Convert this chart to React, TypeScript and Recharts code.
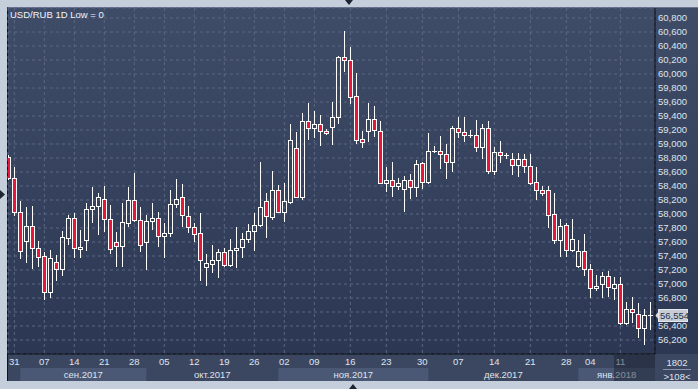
import React from "react";
import { ComposedChart, Bar, XAxis, YAxis, CartesianGrid, ReferenceLine } from "recharts";

// daily candles, USD/RUB (rub), 31 aug 2017 .. 12 jan 2018
const OPEN = [
  58.814, 58.51, 58.024, 57.61, 57.824, 57.51, 57.396, 56.881, 57.31, 57.21,
  57.653, 57.939, 57.504, 57.624, 58.067, 58.11, 58.21, 57.924, 57.596, 57.539,
  57.867, 58.196, 57.91, 57.596, 57.896, 57.939, 57.681, 57.724, 58.139, 58.239,
  57.967, 57.81, 57.724, 57.239, 57.281, 57.339, 57.453, 57.267, 57.481, 57.524,
  57.639, 57.753, 57.839, 58.181, 57.961, 58.343, 58.033, 58.176, 58.939, 58.247,
  59.324, 59.224, 59.281, 59.181, 59.239, 59.381, 60.239, 60.196, 59.681, 59.067,
  59.181, 59.353, 59.181, 58.439, 58.481, 58.396, 58.353, 58.481, 58.381, 58.724,
  58.453, 58.896, 58.896, 58.853, 58.739, 59.224, 59.167, 59.124, 59.124, 58.953,
  59.224, 58.61, 58.881, 58.839, 58.781, 58.696, 58.781, 58.681, 58.453, 58.339,
  58.339, 57.996, 57.624, 57.839, 57.481, 57.253, 57.467, 57.21, 56.939, 56.996,
  57.11, 56.939, 56.996, 56.439, 56.639, 56.567, 56.367, 56.553,
];
const HIGH = [
  58.843, 58.676, 58.186, 58.1, 58.11, 57.614, 57.461, 57.486, 57.41, 57.757,
  57.981, 58.01, 57.771, 58.153, 58.386, 58.296, 58.404, 58.129, 57.743, 58.153,
  58.381, 58.581, 58.096, 57.981, 58.157, 58.024, 57.867, 58.343, 58.5, 58.424,
  58.11, 57.867, 58.01, 57.424, 57.553, 57.496, 57.51, 57.639, 57.81, 57.724,
  57.853, 58.01, 58.747, 58.296, 58.614, 58.414, 58.439, 59.286, 59.167, 59.439,
  59.581, 59.467, 59.414, 59.21, 59.596, 60.253, 60.614, 60.381, 60.01, 59.181,
  59.581, 59.539, 59.324, 58.667, 58.739, 58.51, 58.543, 58.567, 58.767, 58.747,
  59.157, 58.967, 59.11, 58.996, 59.261, 59.381, 59.381, 59.196, 59.339, 59.286,
  59.329, 58.953, 59.039, 58.876, 58.867, 58.867, 58.853, 58.853, 58.667, 58.4,
  58.4, 58.296, 57.924, 57.867, 57.924, 57.624, 57.71, 57.281, 57.124, 57.167,
  57.181, 57.096, 57.096, 56.739, 56.81, 56.724, 56.639, 56.739,
];
const LOW = [
  58.486, 57.976, 57.361, 57.296, 57.219, 57.247, 56.771, 56.796, 57.039, 57.119,
  57.553, 57.376, 57.376, 57.476, 57.871, 57.704, 57.747, 57.424, 57.239, 57.247,
  57.81, 57.886, 57.461, 57.196, 57.767, 57.524, 57.376, 57.667, 58.081, 57.81,
  57.724, 57.596, 57.047, 56.971, 57.153, 57.081, 57.239, 57.239, 57.224, 57.367,
  57.581, 57.467, 57.81, 57.653, 57.914, 58.01, 57.89, 58.147, 58.247, 58.204,
  59.061, 59.081, 58.967, 59.124, 58.981, 59.29, 60.024, 59.567, 58.996, 58.939,
  59.024, 59.096, 58.425, 58.319, 58.247, 58.343, 58.033, 58.21, 58.239, 58.353,
  58.429, 58.867, 58.639, 58.496, 58.604, 59.081, 59.033, 59.081, 58.89, 58.781,
  58.576, 58.553, 58.724, 58.781, 58.553, 58.533, 58.581, 58.41, 58.193, 58.261,
  57.796, 57.567, 57.381, 57.381, 57.453, 57.224, 57.11, 56.796, 56.896, 56.796,
  56.81, 56.767, 56.41, 56.41, 56.439, 56.224, 56.124, 56.339,
];
const CLOSE = [
  58.514, 58.024, 57.467, 57.824, 57.51, 57.381, 56.881, 57.367, 57.21, 57.667,
  57.939, 57.51, 57.524, 58.067, 58.11, 58.239, 57.924, 57.496, 57.539, 57.881,
  58.196, 57.91, 57.553, 57.896, 57.939, 57.681, 57.724, 58.139, 58.21, 57.981,
  57.81, 57.71, 57.339, 57.296, 57.339, 57.453, 57.267, 57.481, 57.51, 57.639,
  57.753, 57.839, 58.096, 57.967, 58.343, 58.033, 58.186, 59.053, 58.247, 59.324,
  59.224, 59.281, 59.181, 59.153, 59.381, 60.239, 60.196, 59.667, 59.053, 59.024,
  59.353, 59.196, 58.439, 58.481, 58.396, 58.439, 58.481, 58.381, 58.71, 58.453,
  58.896, 58.9, 58.853, 58.739, 59.224, 59.167, 59.124, 59.128, 58.953, 59.224,
  58.61, 58.881, 58.839, 58.843, 58.696, 58.781, 58.681, 58.439, 58.339, 58.296,
  57.981, 57.624, 57.824, 57.481, 57.639, 57.467, 57.21, 56.939, 56.967, 57.11,
  56.953, 56.996, 56.439, 56.639, 56.596, 56.367, 56.553, 56.554,
];

const DAY_TICKS = [1, 6, 11, 16, 21, 26, 31, 36, 41, 46, 51, 57, 63, 69, 75, 81, 87, 93, 97, 102];
const DAY_LABELS = ["31", "07", "14", "21", "28", "05", "12", "19", "26", "02", "09", "16", "23", "30", "07", "14", "21", "28", "04", "11"];

const MONTH_LABELS = ["сен.2017", "окт.2017", "ноя.2017", "дек.2017", "янв.2018"];
const MONTH_START = [2, 23, 45, 70, 95];
const MONTH_SHADED = [true, false, true, false, true];

const PRICE_TICKS = [56.2, 56.4, 56.6, 56.8, 57.0, 57.2, 57.4, 57.6, 57.8, 58.0, 58.2, 58.4, 58.6, 58.8, 59.0, 59.2, 59.4, 59.6, 59.8, 60.0, 60.2, 60.4, 60.6, 60.8];
const LAST_PRICE = 56.554;

const XMIN = -0.05;
const XMAX = 107.78;
const YMIN = 56.0;
const YMAX = 60.943;

const W = 698;
const H = 389;
const PLOT_W = 647;
const PX = PLOT_W / (XMAX - XMIN);

const RED = "#e5173c";
const FONT = "'Liberation Sans', Arial, sans-serif";
const TXT = "#dfe4ec";

const candles = OPEN.map((o, i) => ({
  i,
  o,
  h: HIGH[i],
  l: LOW[i],
  c: CLOSE[i],
  range: [LOW[i], HIGH[i]],
}));

const monthEnd = MONTH_START.map((s, k) => (k < MONTH_START.length - 1 ? MONTH_START[k + 1] : XMAX));
const monthCenters = MONTH_START.map((s, k) => (s + monthEnd[k]) / 2);

const fmt = (v: number) => v.toFixed(3).replace(".", ",");

function Candle(props: any) {
  const { x, y, width, height, payload } = props;
  if (!payload || height == null) return null;
  const { o, h, l, c } = payload;
  const k = h > l ? height / (h - l) : 0;
  const cx = Math.round(x + width / 2) + 0.5;
  const top = Math.round(y + (h - Math.max(o, c)) * k) + 0.5;
  const bot = Math.round(y + (h - Math.min(o, c)) * k) + 0.5;
  const y0 = Math.round(y);
  const y1 = Math.round(y + height);
  const up = c >= o;
  return (
    <g>
      <line x1={cx} x2={cx} y1={y0} y2={top} stroke="#fff" strokeWidth={1} />
      <line x1={cx} x2={cx} y1={bot} y2={y1} stroke="#fff" strokeWidth={1} />
      {bot - top < 1 ? (
        <line x1={cx - 2.5} x2={cx + 2.5} y1={top} y2={top} stroke="#fff" strokeWidth={1} />
      ) : (
        <rect x={cx - 2} y={top} width={4} height={bot - top} fill={up ? "none" : RED} stroke="#fff" strokeWidth={1} />
      )}
    </g>
  );
}

function MonthTick(props: any) {
  const { x, y, payload } = props;
  const k = monthCenters.indexOf(payload.value);
  if (k < 0) return null;
  const w = (monthEnd[k] - MONTH_START[k]) * PX;
  return (
    <g>
      {MONTH_SHADED[k] && <rect x={x - w / 2} y={y - 2} width={w} height={13} fill="#4a5876" />}
      <text x={x} y={y + 8} textAnchor="middle" fontSize={9.5} fontFamily={FONT} fill={TXT}>
        {MONTH_LABELS[k]}
      </text>
    </g>
  );
}

// price label; the one hidden under the last-price tag only peeks out on the left
function PriceTick(props: any) {
  const { x, y, payload } = props;
  const covered = Math.abs(payload.value - LAST_PRICE) < 0.1;
  const id = "pclip" + String(payload.value).replace(".", "_");
  return (
    <g>
      {covered && (
        <defs>
          <clipPath id={id}>
            <rect x={x} y={y - 8} width={2} height={16} />
          </clipPath>
        </defs>
      )}
      <text x={x} y={y} dy="0.355em" fontSize={9.5} fontFamily={FONT} fill={TXT} clipPath={covered ? `url(#${id})` : undefined}>
        {fmt(payload.value)}
      </text>
    </g>
  );
}

function PriceTag(props: any) {
  const vb = props.viewBox;
  if (!vb) return null;
  const x = vb.x + vb.width;
  const y = Math.round(vb.y) + 0.5;
  return (
    <g>
      <polygon points={`${x},${y} ${x + 5},${y - 5} ${x + 5},${y + 5}`} fill="#d4d8df" />
      <rect x={x + 3.5} y={y - 6} width={29} height={12} fill="#c8ccd4" stroke="#e4e7ec" />
      <text x={x + 5} y={y + 3.5} fontSize={9.5} fontFamily={FONT} fill="#24304a">
        {fmt(LAST_PRICE)}
      </text>
    </g>
  );
}

export default function App() {
  return (
    <div style={{ position: "absolute", left: 0, top: 0, width: W, height: H, background: "#c5cedb", overflow: "hidden", fontFamily: FONT }}>
      <div style={{ position: "absolute", left: 7, top: 7, width: 691, height: 347, background: "linear-gradient(#3f4c68, #2c3853)", borderLeft: "1px solid #10141c", borderTop: "1px solid #6a7590" }} />
      <div style={{ position: "absolute", left: 7, top: 354, width: 691, height: 27, background: "#3b4661", borderLeft: "1px solid #10141c" }} />
      <div style={{ position: "absolute", left: 0, top: 0 }}>
        <ComposedChart width={W} height={H} data={candles} margin={{ top: 8, right: 0, bottom: 8, left: 8 }}>
          <defs>
            <linearGradient id="plotBg" x1="0" y1="0" x2="0" y2="1">
              <stop offset="0%" stopColor="#3f4c68" />
              <stop offset="100%" stopColor="#2c3853" />
            </linearGradient>
          </defs>
          <CartesianGrid fill="url(#plotBg)" stroke="#5b6783" strokeDasharray="3 3" />
          <XAxis
            dataKey="i"
            type="number"
            domain={[XMIN, XMAX]}
            allowDataOverflow
            ticks={DAY_TICKS}
            interval={0}
            height={16}
            tickSize={0}
            tickMargin={4}
            axisLine={{ stroke: "#05070b" }}
            tickLine={false}
            tickFormatter={(v: number) => DAY_LABELS[DAY_TICKS.indexOf(v)] ?? ""}
            tick={{ fill: TXT, fontSize: 9.5, fontFamily: FONT }}
          />
          <XAxis
            xAxisId="m"
            dataKey="i"
            type="number"
            domain={[XMIN, XMAX]}
            allowDataOverflow
            ticks={monthCenters}
            interval={0}
            height={11}
            tickSize={0}
            tickMargin={0}
            axisLine={false}
            tickLine={false}
            tick={<MonthTick />}
          />
          <YAxis
            orientation="right"
            width={43}
            domain={[YMIN, YMAX]}
            allowDataOverflow
            ticks={PRICE_TICKS}
            interval={0}
            tickSize={0}
            tickMargin={3}
            axisLine={{ stroke: "#05070b" }}
            tickLine={false}
            tick={<PriceTick />}
          />
          <Bar dataKey="range" barSize={6} shape={<Candle />} isAnimationActive={false} />
          <ReferenceLine y={LAST_PRICE} stroke="none" ifOverflow="visible" label={<PriceTag />} />
        </ComposedChart>
      </div>
      <div style={{ position: "absolute", left: 10, top: 9, fontSize: 9.5, color: "#f2f4f8", lineHeight: "11px" }}>USD/RUB 1D Low = 0</div>
      <div style={{ position: "absolute", left: 656, top: 355, width: 42, textAlign: "center", fontSize: 9.5, color: TXT, lineHeight: "11px" }}>
        <div style={{ paddingTop: 2, paddingBottom: 1, borderBottom: "1px solid #8a94a8", margin: "0 7px" }}>1802</div>
        <div style={{ paddingTop: 1 }}>&gt;108&lt;</div>
      </div>
      <div style={{ position: "absolute", left: 614, top: 355, width: 41, height: 26, background: "rgba(22,28,42,0.45)" }} />
      <svg width={W} height={H} style={{ position: "absolute", left: 0, top: 0, pointerEvents: "none" }}>
        <polygon points="345,0 353,0 349,5" fill="#1d2434" />
        <polygon points="0,190 0,199 5,194.5" fill="#1d2434" />
        <polygon points="349,389 357,389 353,384" fill="#1d2434" />
      </svg>
    </div>
  );
}
